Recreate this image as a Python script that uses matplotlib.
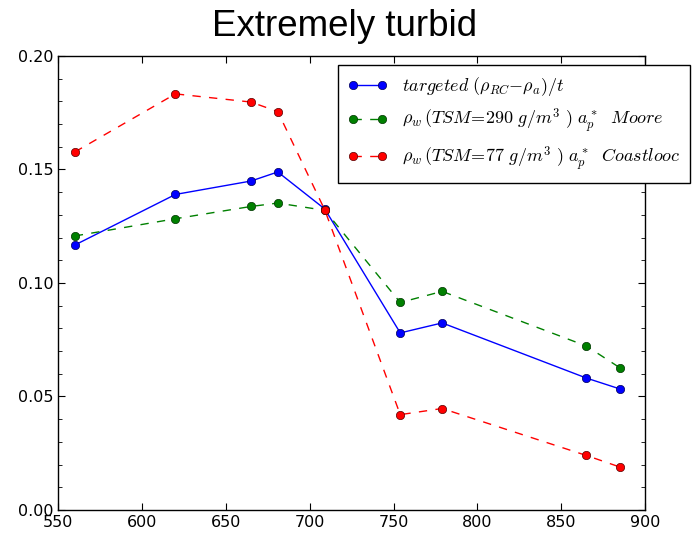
import matplotlib
matplotlib.use('Agg')
import matplotlib.pyplot as plt

plt.rcParams['mathtext.fontset'] = 'cm'

# wavelengths (nm)
wavelengths = [560, 620, 665, 681, 709, 754, 779, 865, 885]

# series values
targeted = [0.1167, 0.1390, 0.1449, 0.1489, 0.1326, 0.0780, 0.0824, 0.0581, 0.0533]
moore = [0.1207, 0.1283, 0.1337, 0.1352, 0.1320, 0.0914, 0.0963, 0.0722, 0.0626]
coastlooc = [0.1577, 0.1833, 0.1797, 0.1755, 0.1322, 0.0420, 0.0447, 0.0240, 0.0189]

labels = [
    r'$targeted\ (\rho_{RC}{-}\rho_a)/t$',
    r'$\rho_w\,(TSM\!=\!290\ g/m^3\ )\ a_p^*\ \ Moore$',
    r'$\rho_w\,(TSM\!=\!77\ g/m^3\ )\ a_p^*\ \ Coastlooc$',
]

fig = plt.figure(figsize=(6.93, 5.33), dpi=100)
ax = fig.add_axes([0.0837, 0.0432, 0.8473, 0.8518])

ax.plot(wavelengths, targeted, '-o', color='blue', lw=1, ms=6, mec='#000055', mew=0.5, label=labels[0])
ax.plot(wavelengths, moore, 'o', ls=(0, (6, 6)), color='green', lw=1, ms=6, mec='#003300', mew=0.5, label=labels[1])
ax.plot(wavelengths, coastlooc, 'o', ls=(0, (6, 6)), color='red', lw=1, ms=6, mec='#550000', mew=0.5, label=labels[2])

ax.set_xlim(550, 900)
ax.set_ylim(0, 0.20)
ax.set_xticks([550, 600, 650, 700, 750, 800, 850, 900])
ax.set_yticks([0.00, 0.05, 0.10, 0.15, 0.20])
ax.set_yticklabels(['0.00', '0.05', '0.10', '0.15', '0.20'])
ax.set_yticks([i * 0.01 for i in range(21)], minor=True)
ax.tick_params(direction='in', top=True, right=True, labelsize=11.5, length=5)
ax.tick_params(which='minor', direction='in', left=True, right=True, length=3)
for s in ax.spines.values():
    s.set_linewidth(1)

fig.text(0.497, 0.950, 'Extremely turbid', ha='center', va='center',
         fontsize=26.5, family='Liberation Sans')

leg = ax.legend(loc='upper right', bbox_to_anchor=(0.996, 0.878),
                bbox_transform=fig.transFigure, borderaxespad=0, numpoints=2,
                fontsize=13, fancybox=False, framealpha=1, edgecolor='black',
                handlelength=2.2, borderpad=0.55, labelspacing=0.5)
leg.get_frame().set_linewidth(1)

fig.savefig('out.png', dpi=100)
